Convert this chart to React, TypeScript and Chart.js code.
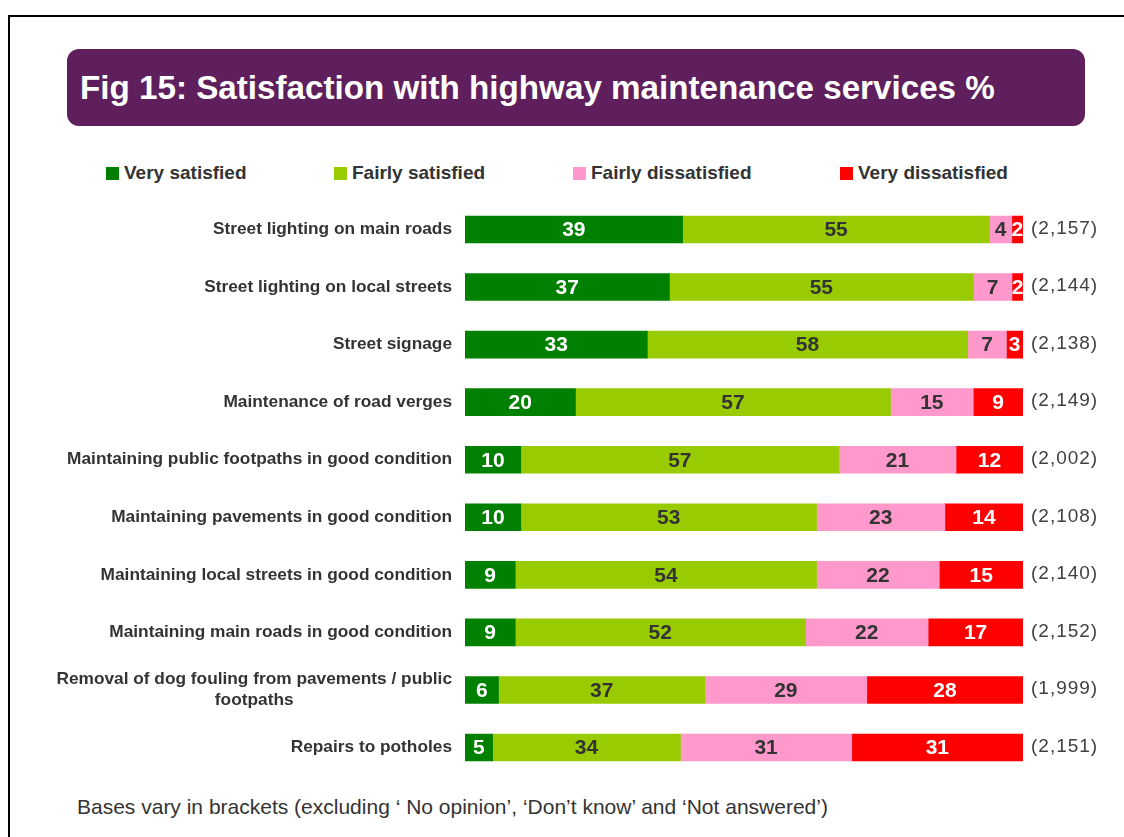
import React, { useEffect, useRef } from "react";
import { Chart, registerables } from "chart.js";

Chart.register(...registerables);

const titleText = "Fig 15: Satisfaction with highway maintenance services %";
const footnoteText =
  "Bases vary in brackets (excluding \u2018 No opinion\u2019, \u2018Don\u2019t know\u2019 and \u2018Not answered\u2019)";

const categories: string[][] = [
  ["Street lighting on main roads"],
  ["Street lighting on local streets"],
  ["Street signage"],
  ["Maintenance of road verges"],
  ["Maintaining public footpaths in good condition"],
  ["Maintaining pavements in good condition"],
  ["Maintaining local streets in good condition"],
  ["Maintaining main roads in good condition"],
  ["Removal of dog fouling from pavements / public", "footpaths"],
  ["Repairs to potholes"],
];

const verySatisfied = [39, 37, 33, 20, 10, 10, 9, 9, 6, 5];
const fairlySatisfied = [55, 55, 58, 57, 57, 53, 54, 52, 37, 34];
const fairlyDissatisfied = [4, 7, 7, 15, 21, 23, 22, 22, 29, 31];
const veryDissatisfied = [2, 2, 3, 9, 12, 14, 15, 17, 28, 31];

const bases = [
  "(2,157)",
  "(2,144)",
  "(2,138)",
  "(2,149)",
  "(2,002)",
  "(2,108)",
  "(2,140)",
  "(2,152)",
  "(1,999)",
  "(2,151)",
];

const seriesNames = ["Very satisfied", "Fairly satisfied", "Fairly dissatisfied", "Very dissatisfied"];
const seriesColors = ["#008000", "#99CC00", "#FF99CC", "#FF0000"];
const valueLabelColors = ["#FFFFFF", "#333333", "#333333", "#FFFFFF"];
const legendX = [106, 334, 573, 840];

const FONT = "'Liberation Sans', Arial, Helvetica, sans-serif";

const rawSeries = [verySatisfied, fairlySatisfied, fairlyDissatisfied, veryDissatisfied];

const textPlugin = {
  id: "barTexts",
  afterDatasetsDraw(chart: any) {
    const ctx = chart.ctx as CanvasRenderingContext2D;
    const yScale = chart.scales.y;
    const area = chart.chartArea;
    ctx.save();
    ctx.textBaseline = "middle";

    // values inside the bars
    ctx.font = `bold 21px ${FONT}`;
    ctx.textAlign = "center";
    chart.data.datasets.forEach((_ds: any, di: number) => {
      const meta = chart.getDatasetMeta(di);
      meta.data.forEach((bar: any, i: number) => {
        const p = bar.getProps(["x", "base", "y"], true);
        const cx = (p.x + p.base) / 2;
        ctx.fillStyle = valueLabelColors[di];
        ctx.fillText(String(rawSeries[di][i]), cx, p.y + 1);
      });
    });

    // category labels
    ctx.font = `bold 17.3px ${FONT}`;
    ctx.fillStyle = "#333333";
    categories.forEach((lines, i) => {
      const yc = yScale.getPixelForValue(i);
      const maxW = Math.max(...lines.map((l) => ctx.measureText(l).width));
      const cx = area.left - 13 - maxW / 2;
      lines.forEach((l, k) => {
        ctx.fillText(l, cx, yc + (k - (lines.length - 1) / 2) * 21);
      });
    });

    // base sizes
    ctx.font = `19px ${FONT}`;
    ctx.fillStyle = "#404040";
    ctx.textAlign = "left";
    (ctx as any).letterSpacing = "1px";
    bases.forEach((b, i) => {
      const yc = yScale.getPixelForValue(i);
      ctx.fillText(b, area.right + 8, yc - 1);
    });

    ctx.restore();
  },
};

export default function App() {
  const canvasRef = useRef<HTMLCanvasElement | null>(null);

  useEffect(() => {
    if (!canvasRef.current) return;
    const totals = categories.map((_, i) => rawSeries.reduce((s, arr) => s + arr[i], 0));
    const chart = new Chart(canvasRef.current, {
      type: "bar",
      data: {
        labels: categories.map((c) => c.join(" ")),
        datasets: rawSeries.map((arr, di) => ({
          label: seriesNames[di],
          data: arr.map((v, i) => (v / totals[i]) * 100),
          backgroundColor: seriesColors[di],
          borderWidth: 0,
          barThickness: 27,
        })),
      },
      options: {
        indexAxis: "y",
        responsive: false,
        animation: false,
        layout: { padding: { left: 465, right: 101, top: 10.7, bottom: 13.7 } },
        scales: {
          x: { stacked: true, min: 0, max: 100, display: false },
          y: { stacked: true, display: false },
        },
        plugins: {
          legend: { display: false },
          tooltip: { enabled: false },
        },
      },
      plugins: [textPlugin],
    });
    return () => chart.destroy();
  }, []);

  return (
    <div
      style={{
        position: "absolute",
        left: 0,
        top: 0,
        width: 1124,
        height: 837,
        overflow: "hidden",
        background: "#FFFFFF",
        fontFamily: FONT,
      }}
    >
      <div
        style={{
          position: "absolute",
          left: 8,
          top: 15,
          right: -10,
          bottom: -10,
          borderLeft: "2px solid #000",
          borderTop: "2px solid #000",
        }}
      />
      <div
        style={{
          position: "absolute",
          left: 67,
          top: 49,
          width: 1018,
          height: 77,
          borderRadius: 12,
          background: "#5E1F5C",
          color: "#FFFFFF",
          fontWeight: "bold",
          fontSize: 33.2,
          lineHeight: "78px",
          paddingLeft: 13,
          boxSizing: "border-box",
          whiteSpace: "nowrap",
        }}
      >
        {titleText}
      </div>
      {seriesNames.map((name, i) => (
        <div
          key={name}
          style={{
            position: "absolute",
            left: legendX[i],
            top: 160,
            height: 26,
            display: "flex",
            alignItems: "center",
            whiteSpace: "nowrap",
          }}
        >
          <span
            style={{
              display: "inline-block",
              width: 13,
              height: 13,
              background: seriesColors[i],
              marginRight: 5,
            }}
          />
          <span style={{ fontWeight: "bold", fontSize: 19, color: "#333333" }}>{name}</span>
        </div>
      ))}
      <canvas
        ref={canvasRef}
        width={1124}
        height={600}
        style={{ position: "absolute", left: 0, top: 190, display: "block" }}
      />
      <div
        style={{
          position: "absolute",
          left: 77,
          top: 795,
          fontSize: 21,
          lineHeight: "24px",
          color: "#333333",
          whiteSpace: "nowrap",
        }}
      >
        {footnoteText}
      </div>
    </div>
  );
}
